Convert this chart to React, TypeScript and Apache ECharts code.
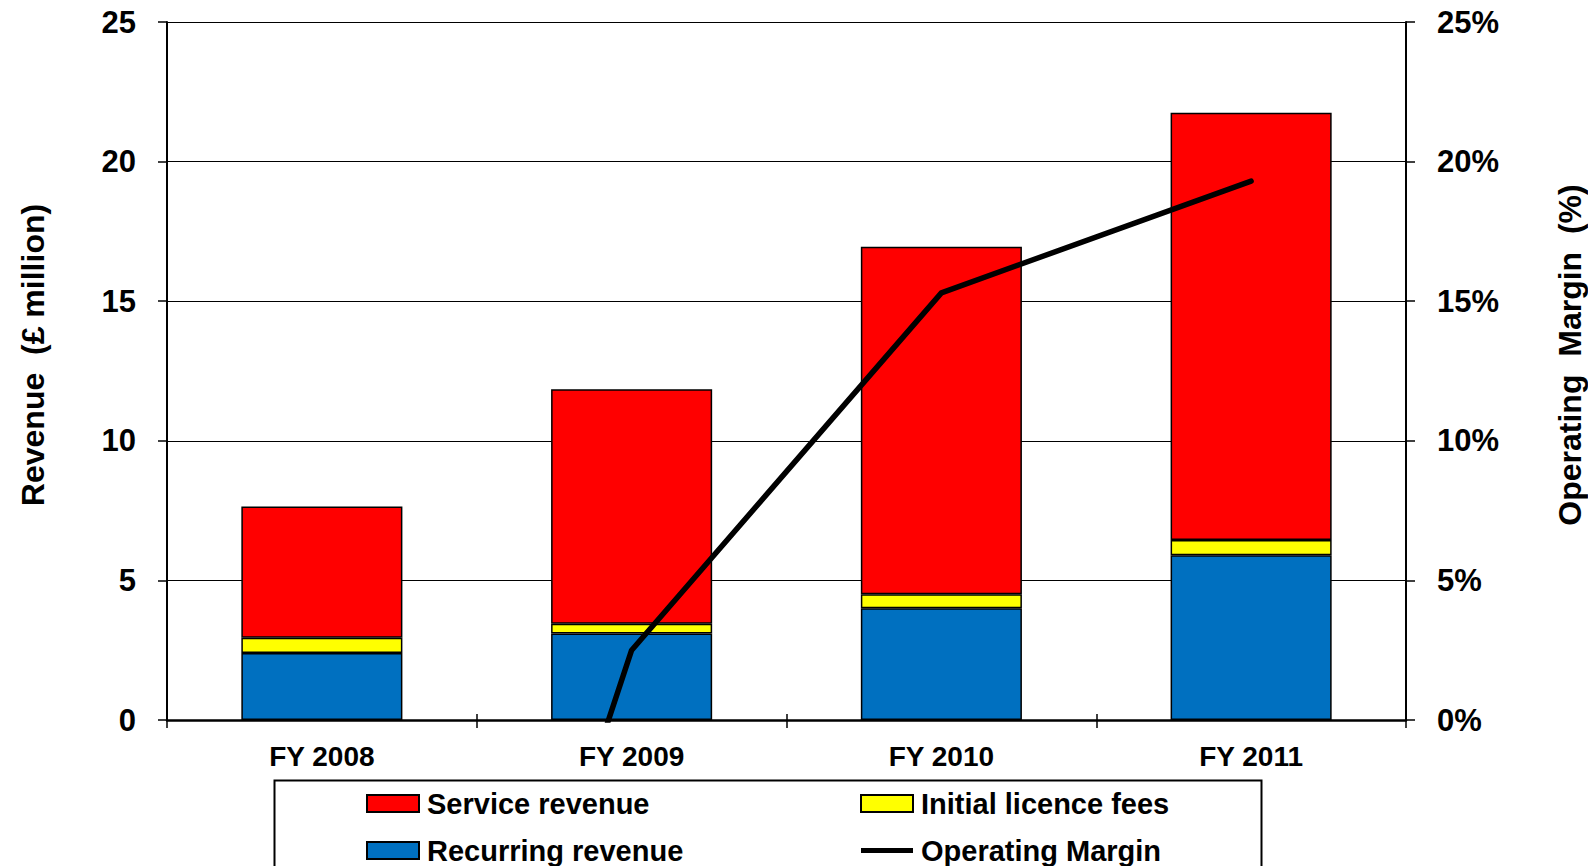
import React, { useEffect, useRef } from "react";
import * as echarts from "echarts";

const categories = ["FY 2008", "FY 2009", "FY 2010", "FY 2011"];
const recurringRevenue = [2.4, 3.1, 4.0, 5.9];
const initialLicenceFees = [0.55, 0.35, 0.5, 0.55];
const serviceRevenue = [4.7, 8.4, 12.45, 15.3];
const operatingMargin = [-31, 2.5, 15.3, 19.3];
const leftTicks = [0, 5, 10, 15, 20, 25];
const rightTicks = [0, 5, 10, 15, 20, 25];

const FONT = "'Liberation Sans', Arial, sans-serif";
const LINE_ICON = "path://M0,0h52v5h-52z";

export default function App() {
  const ref = useRef<HTMLDivElement>(null);
  useEffect(() => {
    if (!ref.current) return;
    const chart = echarts.init(ref.current, null, { renderer: "svg" });
    const border = { borderColor: "#000", borderWidth: 1.5 };
    const legendText = {
      color: "#000",
      fontSize: 29,
      fontWeight: "bold",
      fontFamily: FONT,
      lineHeight: 28,
      padding: [0, 0, 0, 3],
    };
    const option = {
      animation: false,
      backgroundColor: "#fff",
      textStyle: { fontFamily: FONT },
      grid: { left: 167, right: 182, top: 22, bottom: 146, containLabel: false },
      xAxis: [
        {
          type: "category",
          data: categories,
          position: "bottom",
          axisLine: { lineStyle: { color: "#000", width: 2.5 } },
          axisTick: { show: true, length: 8, lineStyle: { color: "#000", width: 1.5 } },
          axisLabel: { color: "#000", fontSize: 28, fontWeight: "bold", fontFamily: FONT, margin: 22 },
        },
        {
          type: "category",
          data: categories,
          position: "bottom",
          gridIndex: 0,
          axisLine: { show: false },
          axisTick: { show: true, inside: true, length: 6, lineStyle: { color: "#000", width: 1.5 } },
          axisLabel: { show: false },
        },
      ],
      yAxis: [
        {
          type: "value",
          min: leftTicks[0],
          max: leftTicks[leftTicks.length - 1],
          interval: 5,
          position: "left",
          axisLine: { show: true, lineStyle: { color: "#000", width: 2 } },
          axisTick: { show: true, length: 9, lineStyle: { color: "#000", width: 1.5 } },
          axisLabel: { color: "#000", fontSize: 31, fontWeight: "bold", fontFamily: FONT, margin: 31 },
          splitLine: { show: true, lineStyle: { color: "#000", width: 1.2 } },
        },
        {
          type: "value",
          min: rightTicks[0],
          max: rightTicks[rightTicks.length - 1],
          interval: 5,
          position: "right",
          axisLine: { show: true, lineStyle: { color: "#000", width: 2 } },
          axisTick: { show: true, length: 9, lineStyle: { color: "#000", width: 1.5 } },
          axisLabel: {
            color: "#000",
            fontSize: 31,
            fontWeight: "bold",
            fontFamily: FONT,
            margin: 31,
            formatter: "{value}%",
          },
          splitLine: { show: false },
        },
      ],
      legend: [
        {
          orient: "vertical",
          left: 366,
          top: 789,
          padding: 0,
          height: 90,
          itemWidth: 52,
          itemHeight: 17,
          itemGap: 18,
          icon: "rect",
          data: ["Service revenue", "Recurring revenue"],
          textStyle: legendText,
        },
        {
          orient: "vertical",
          left: 860,
          top: 789,
          padding: 0,
          height: 90,
          itemWidth: 52,
          itemHeight: 17,
          itemGap: 18,
          data: [
            { name: "Initial licence fees", icon: "rect" },
            { name: "Operating Margin", icon: LINE_ICON, itemStyle: { color: "#000", borderWidth: 0 } },
          ],
          textStyle: legendText,
        },
      ],
      graphic: [
        {
          type: "rect",
          left: 272,
          top: 778,
          shape: { width: 987, height: 100 },
          style: { fill: "none", stroke: "#000", lineWidth: 2 },
          z: -1,
        },
        {
          type: "text",
          x: 33,
          y: 355,
          rotation: Math.PI / 2,
          style: {
            text: "Revenue  (£ million)",
            fontSize: 32,
            fontWeight: "bold",
            fontFamily: FONT,
            fill: "#000",
            align: "center",
            verticalAlign: "middle",
          },
        },
        {
          type: "text",
          x: 1570,
          y: 355,
          rotation: Math.PI / 2,
          style: {
            text: "Operating  Margin  (%)",
            fontSize: 32,
            fontWeight: "bold",
            fontFamily: FONT,
            fill: "#000",
            align: "center",
            verticalAlign: "middle",
          },
        },
      ],
      series: [
        {
          name: "Recurring revenue",
          type: "bar",
          stack: "rev",
          data: recurringRevenue,
          barWidth: "52%",
          itemStyle: { color: "#0070C0", ...border },
        },
        {
          name: "Initial licence fees",
          type: "bar",
          stack: "rev",
          data: initialLicenceFees,
          barWidth: "52%",
          itemStyle: { color: "#FFFF00", ...border },
        },
        {
          name: "Service revenue",
          type: "bar",
          stack: "rev",
          data: serviceRevenue,
          barWidth: "52%",
          itemStyle: { color: "#FF0000", ...border },
        },
        {
          name: "Operating Margin",
          type: "line",
          yAxisIndex: 1,
          data: operatingMargin,
          symbol: "none",
          clip: true,
          lineStyle: { color: "#000", width: 5.5, cap: "round", join: "round" },
          itemStyle: { color: "#000" },
          z: 5,
        },
      ],
    };
    chart.setOption(option as any);
    return () => chart.dispose();
  }, []);
  return (
    <div
      ref={ref}
      style={{ position: "fixed", left: 0, top: 0, width: 1588, height: 866 }}
    />
  );
}
